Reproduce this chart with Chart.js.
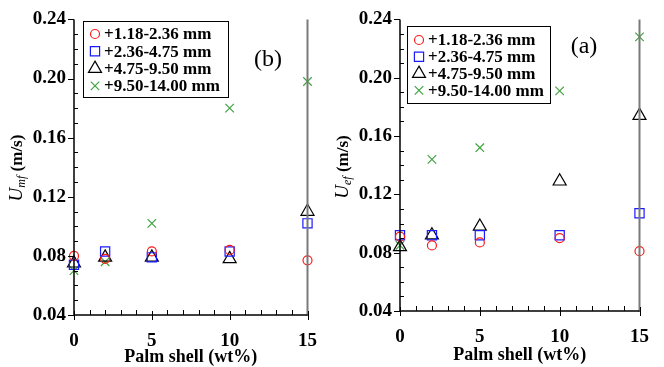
<!DOCTYPE html>
<html>
<head>
<meta charset="utf-8">
<script src="https://cdn.jsdelivr.net/npm/chart.js@4.4.1/dist/chart.umd.min.js"></script>
<style>
  html, body { margin: 0; padding: 0; background: #fff; }
  #wrap { position: relative; width: 664px; height: 367px; }
  .panel { position: absolute; top: 0; width: 332px; height: 367px; }
</style>
</head>
<body>
<div id="wrap">
  <div class="panel" style="left:0"><canvas id="umfChart" width="332" height="367"></canvas></div>
  <div class="panel" style="left:332px"><canvas id="uefChart" width="332" height="367"></canvas></div>
</div>
<script>
// x values (palm shell content, wt%)
const palmShell = [0, 2, 5, 10, 15];
const sizeRanges = ["+1.18-2.36 mm", "+2.36-4.75 mm", "+4.75-9.50 mm", "+9.50-14.00 mm"];
const xTicks = [0, 5, 10, 15];
const yTicks = [0.04, 0.08, 0.12, 0.16, 0.20, 0.24];

// (b) minimum fluidization velocity Umf
const umf118 = [0.080, 0.078, 0.083, 0.084, 0.077];
const umf236 = [0.074, 0.083, 0.079, 0.083, 0.102];
const umf475 = [0.075, 0.079, 0.079, 0.078, 0.110];
const umf950 = [0.070, 0.076, 0.102, 0.180, 0.198];

// (a) complete fluidization velocity Uef
const uef118 = [0.091, 0.085, 0.087, 0.090, 0.081];
const uef236 = [0.092, 0.092, 0.092, 0.092, 0.107];
const uef475 = [0.084, 0.092, 0.098, 0.129, 0.174];
const uef950 = [0.085, 0.144, 0.152, 0.191, 0.228];

const colors = ["#ff1a1a", "#1a1aff", "#000000", "#3fa33f"];
const styles = ["circle", "rect", "triangle", "crossRot"];
const radii = [4.5, 6.5, 7.5, 6];
const SERIF = "'Liberation Serif', 'Times New Roman', serif";

function pts(vals) {
    return palmShell.map((x, i) => ({ x: x, y: vals[i] }));
}

// same geometry as Chart.js point styles, used for the legend keys
function drawMarker(ctx, style, x, y, r) {
    ctx.beginPath();
    if (style === "circle") {
        ctx.arc(x, y, r, 0, Math.PI * 2);
    } else if (style === "rect") {
        const s = Math.SQRT1_2 * r;
        ctx.rect(x - s, y - s, 2 * s, 2 * s);
    } else if (style === "triangle") {
        let a = 0;
        ctx.moveTo(x + Math.sin(a) * r, y - Math.cos(a) * r);
        a += Math.PI * 2 / 3;
        ctx.lineTo(x + Math.sin(a) * r, y - Math.cos(a) * r);
        a += Math.PI * 2 / 3;
        ctx.lineTo(x + Math.sin(a) * r, y - Math.cos(a) * r);
        ctx.closePath();
    } else {
        const d = r * Math.SQRT1_2;
        ctx.moveTo(x - d, y - d); ctx.lineTo(x + d, y + d);
        ctx.moveTo(x + d, y - d); ctx.lineTo(x - d, y + d);
    }
    ctx.stroke();
}

// axes, ticks, titles, legend box and panel tag
const framePlugin = {
    id: "frame",
    afterDraw(chart, args, opts) {
        const ctx = chart.ctx;
        const a = chart.chartArea;
        const xs = chart.scales.x, ys = chart.scales.y;
        ctx.save();

        // right border (grey)
        ctx.strokeStyle = "#7a7a7a";
        ctx.lineWidth = 2;
        ctx.beginPath();
        ctx.moveTo(a.right, a.top);
        ctx.lineTo(a.right, a.bottom + 1);
        ctx.stroke();

        // left and bottom axes
        ctx.strokeStyle = "#000";
        ctx.lineWidth = 1.5;
        ctx.beginPath();
        ctx.moveTo(a.left, a.top);
        ctx.lineTo(a.left, a.bottom);
        ctx.lineTo(a.right, a.bottom);
        ctx.stroke();

        ctx.lineWidth = 1;
        ctx.beginPath();
        for (let k = 4; k <= 24; k++) {
            const py = Math.round(ys.getPixelForValue(k / 100)) + 0.5;
            if (k % 4 === 0) {
                ctx.moveTo(a.left - 6, py); ctx.lineTo(a.left, py);
            } else {
                ctx.moveTo(a.left, py); ctx.lineTo(a.left + 4, py);
            }
        }
        for (let k = 0; k <= 15; k++) {
            const px = Math.round(xs.getPixelForValue(k)) + 0.5;
            if (k % 5 === 0) {
                ctx.moveTo(px, a.bottom - 4); ctx.lineTo(px, a.bottom + 5);
            } else {
                ctx.moveTo(px, a.bottom - 5); ctx.lineTo(px, a.bottom);
            }
        }
        ctx.stroke();

        // x title
        ctx.fillStyle = "#000";
        ctx.font = "bold 18px " + SERIF;
        ctx.textAlign = "center";
        ctx.textBaseline = "alphabetic";
        ctx.fillText("Palm shell (wt%)", (a.left + a.right) / 2, opts.xTitleY);

        // y title with subscript, rotated
        ctx.save();
        ctx.translate(opts.yTitleX, opts.yTitleY);
        ctx.rotate(-Math.PI / 2);
        const f1 = "italic 19px " + SERIF, f2 = "italic 12px " + SERIF, f3 = "bold 17px " + SERIF;
        ctx.font = f1; const w1 = ctx.measureText("U").width;
        ctx.font = f2; const w2 = ctx.measureText(opts.sub).width;
        ctx.font = f3; const w3 = ctx.measureText(" (m/s)").width;
        let tx = -(w1 + w2 + w3) / 2;
        ctx.textAlign = "left";
        ctx.font = f1; ctx.fillText("U", tx, 0); tx += w1;
        ctx.font = f2; ctx.fillText(opts.sub, tx, 3); tx += w2;
        ctx.font = f3; ctx.fillText(" (m/s)", tx, 0);
        ctx.restore();

        // panel tag
        ctx.font = "24px " + SERIF;
        ctx.textAlign = "center";
        ctx.textBaseline = "middle";
        ctx.fillText(opts.tag, opts.tagX, opts.tagY);

        // legend
        const lg = opts.legend;
        ctx.fillStyle = "#fff";
        ctx.fillRect(lg.x, lg.y, lg.w, lg.h);
        ctx.strokeStyle = "#000";
        ctx.lineWidth = 1;
        ctx.strokeRect(lg.x + 0.5, lg.y + 0.5, lg.w, lg.h);
        ctx.font = "bold 17px " + SERIF;
        ctx.textAlign = "left";
        ctx.textBaseline = "middle";
        chart.data.datasets.forEach((ds, i) => {
            const iy = lg.y + lg.first + i * lg.step;
            ctx.strokeStyle = ds.borderColor;
            ctx.lineWidth = 1.2;
            drawMarker(ctx, ds.pointStyle, lg.markX, iy, ds.pointRadius);
            ctx.fillStyle = "#000";
            ctx.fillText(ds.label, lg.textX, iy + 1);
        });
        ctx.restore();
    }
};

function makeChart(id, series, area, frame) {
    const datasets = series.map((vals, i) => ({
        label: sizeRanges[i],
        data: pts(vals),
        pointStyle: styles[i],
        pointRadius: radii[i],
        pointHoverRadius: radii[i],
        borderColor: colors[i],
        backgroundColor: "rgba(0,0,0,0)",
        pointBorderWidth: 1.2,
        clip: false
    }));
    return new Chart(document.getElementById(id), {
        type: "scatter",
        data: { datasets: datasets },
        plugins: [framePlugin],
        options: {
            responsive: false,
            animation: false,
            events: [],
            layout: { padding: { left: 0, top: area.top, right: 332 - area.right, bottom: 0 } },
            scales: {
                x: {
                    type: "linear", min: 0, max: 15,
                    afterBuildTicks: s => { s.ticks = xTicks.map(v => ({ value: v })); },
                    afterFit: s => { s.height = 367 - area.bottom; },
                    grid: { display: false, drawTicks: false, tickLength: 0 },
                    border: { display: false },
                    ticks: {
                        autoSkip: false, maxRotation: 0, padding: 15, color: "#000",
                        font: { family: SERIF, size: 19, weight: "bold" }
                    }
                },
                y: {
                    type: "linear", min: 0.04, max: 0.24,
                    afterBuildTicks: s => { s.ticks = yTicks.map(v => ({ value: v })); },
                    afterFit: s => { s.width = area.left; },
                    grid: { display: false, drawTicks: false, tickLength: 0 },
                    border: { display: false },
                    ticks: {
                        autoSkip: false, padding: 8, color: "#000",
                        font: { family: SERIF, size: 19, weight: "bold" },
                        callback: v => v.toFixed(2)
                    }
                }
            },
            plugins: {
                legend: { display: false },
                tooltip: { enabled: false },
                frame: frame
            }
        }
    });
}

makeChart("umfChart", [umf118, umf236, umf475, umf950],
    { left: 74, right: 319, top: 17, bottom: 315 },
    {
        sub: "mf", yTitleX: 22, yTitleY: 168, xTitleY: 362,
        tag: "(b)", tagX: 268, tagY: 60,
        legend: { x: 83, y: 21, w: 145, h: 76, first: 13, step: 17.3, markX: 95, textX: 104 }
    });

makeChart("uefChart", [uef118, uef236, uef475, uef950],
    { left: 68, right: 310, top: 18, bottom: 311 },
    {
        sub: "ef", yTitleX: 16, yTitleY: 167, xTitleY: 360,
        tag: "(a)", tagX: 252, tagY: 47,
        legend: { x: 75, y: 26, w: 143, h: 77, first: 14, step: 16.8, markX: 87, textX: 96 }
    });
</script>
</body>
</html>
